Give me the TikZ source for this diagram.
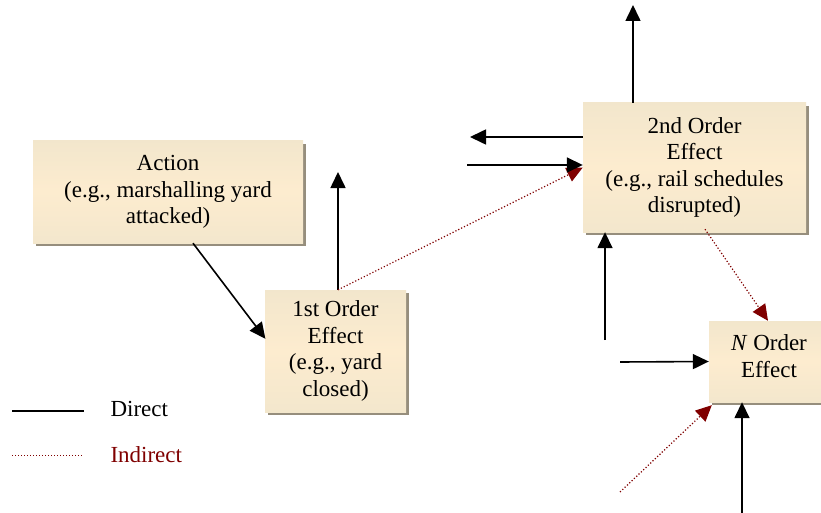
\documentclass[tikz,border=0pt]{standalone}
\usepackage{fontspec}
\setmainfont{Liberation Serif}
\usetikzlibrary{arrows.meta,shadows,calc}
\definecolor{boxtan}{RGB}{205,190,155}
\definecolor{boxlight}{RGB}{238,228,203}
\definecolor{boxcream}{RGB}{253,236,207}
\definecolor{indred}{RGB}{128,0,0}
\definecolor{shadowc}{RGB}{150,142,125}
\pgfdeclareverticalshading{boxshade}{100bp}{color(0bp)=(boxtan); color(12bp)=(boxlight); color(50bp)=(boxcream); color(85bp)=(boxlight); color(100bp)=(boxtan)}
\tikzset{
  effectbox/.style={rectangle, shading=boxshade,
    draw=none, align=center, inner sep=2pt,
    font=\fontsize{23}{26.5}\selectfont,
    drop shadow={shadow xshift=3pt, shadow yshift=-3pt, fill=shadowc, opacity=1}},
  direct/.style={line width=1.6pt, -{Triangle[length=16pt,width=15pt]}},
  indirect/.style={indred, line width=1.2pt, dotted, -{Triangle[length=16pt,width=15pt]}},
  legtext/.style={font=\fontsize{23}{26.5}\selectfont, anchor=west}
}
\begin{document}
\begin{tikzpicture}[x=1pt,y=-1pt]
\useasboundingbox[fill=white] (0,0) rectangle (821,513);
\node[effectbox, minimum width=270pt, minimum height=102pt] (action) at (168,192)
  {Action\\(e.g., marshalling yard\\attacked)};
\node[effectbox, minimum width=141pt, minimum height=122pt] (first) at (335.5,351)
  {1st Order\\Effect\\(e.g., yard\\closed)};
\node[effectbox, minimum width=223pt, minimum height=129pt] (second) at (694.5,167.5)
  {2nd Order\\Effect\\(e.g., rail schedules\\disrupted)};
\node[effectbox, minimum width=120pt, minimum height=81pt] (nord) at (769,361.5)
  {\textit{N} Order\\Effect\\[-16pt]};

\coordinate (c1) at (338,172);
\coordinate (c2) at (633,5);
\coordinate (c3) at (470,137);
\coordinate (c4) at (467,165);
\coordinate (c5) at (605,340);
\coordinate (c6) at (620,362);
\coordinate (c7) at (620,492);
\coordinate (c8) at (742,513);

\draw[direct, shorten >=-1pt] ([xshift=25pt]action.south) -- ([yshift=13pt]first.west);
\draw[direct] ([xshift=2.5pt]first.north) -- (c1);
\draw[indirect] ([xshift=2.5pt]first.north) -- (second.west);
\draw[direct] ([xshift=-61.5pt]second.north) -- (c2);
\draw[direct] ([yshift=30.5pt]second.west) -- (c3);
\draw[direct] (c4) -- ([yshift=2.5pt]second.west);
\draw[direct] (c5) -- ([xshift=-89.5pt]second.south);
\draw[indirect] ([xshift=10.5pt,yshift=3pt]second.south) -- ([xshift=-1pt]nord.north);
\draw[direct] (c6) -- (nord.west);
\draw[indirect] (c7) -- ([xshift=3pt,yshift=-3pt]nord.south west);
\draw[direct] (c8) -- ([xshift=-27pt]nord.south);

\coordinate (l1) at (12,411);
\coordinate (l2) at (84,411);
\coordinate (l3) at (12,455);
\coordinate (l4) at (82,455);
\draw[line width=1.2pt] (l1) -- (l2);
\draw[indred, line width=1pt, dotted] (l3) -- (l4);
\node[legtext] (ldirect) at (107,409) {Direct};
\node[legtext, text=indred] (lindirect) at (107,455) {Indirect};
\end{tikzpicture}
\end{document}
